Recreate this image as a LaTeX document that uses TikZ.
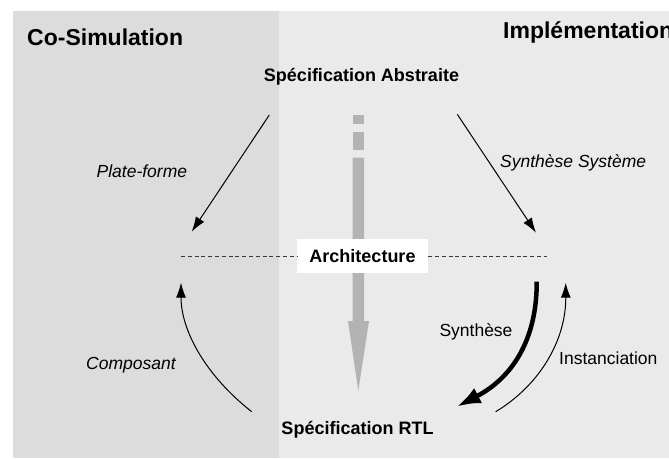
\documentclass[tikz,border=0pt]{standalone}
\usepackage{fontspec}
\setmainfont{Liberation Sans}
\usetikzlibrary{arrows.meta}
\definecolor{leftpanel}{HTML}{DCDCDC}
\definecolor{rightpanel}{HTML}{EAEAEA}
\definecolor{flowgray}{HTML}{B3B3B3}
\definecolor{dashgray}{HTML}{3A3A3A}
\begin{document}
\begin{tikzpicture}[x=1pt,y=-1pt,
  title/.style={font=\fontsize{23}{26}\selectfont\bfseries, inner sep=0pt},
  level/.style={font=\fontsize{18}{20}\selectfont\bfseries, inner sep=0pt},
  toollabel/.style={font=\fontsize{17.5}{20}\selectfont\itshape, inner sep=0pt},
  flowlabel/.style={font=\fontsize{17.5}{20}\selectfont, inner sep=0pt},
  thinarrow/.style={-{Latex[length=15pt,width=10pt]}, line width=1pt},
  thickarrow/.style={-{Latex[length=24pt,width=17pt]}, line width=4.5pt},
  archline/.style={dashgray, line width=1pt, dash pattern=on 4pt off 2.8pt},
]
\useasboundingbox (0,0) rectangle (669,458);

% two working areas
\fill[leftpanel] (13,11) rectangle (279,458);
\fill[rightpanel] (279,11) rectangle (669,458);

% refinement flow, top to bottom
\fill[flowgray] (352.7,114.7) rectangle (364,124);
\fill[flowgray] (352.7,132) rectangle (364,150);
\fill[flowgray] (352.7,157.7) -- (364,157.7) -- (364,321) -- (369,321)
  -- (358.3,391) -- (348,321) -- (352.7,321) -- cycle;

% area titles
\node[title, anchor=base west] (cosim) at (27,45) {Co-Simulation};
\node[title, anchor=base west] (impl) at (503,38.3) {Implémentation};

% abstraction levels
\node[level, anchor=base] (abs) at (361.5,81) {Spécification Abstraite};
\node[level, fill=white, minimum width=131pt, minimum height=34pt] (arch) at (362.5,256) {Architecture};
\node[level, anchor=base] (rtl) at (357.5,434) {Spécification RTL};

% free ends of the connectors
\coordinate (archL) at (181,256);
\coordinate (archR) at (547,256);
\coordinate (pfA) at (269.3,115);
\coordinate (pfB) at (191.7,231.7);
\coordinate (ssA) at (457.3,114.3);
\coordinate (ssB) at (536,232.7);
\coordinate (coA) at (251.7,411.7);
\coordinate (coB) at (181,282.7);
\coordinate (syA) at (536.7,281.7);
\coordinate (syB) at (456.7,406.7);
\coordinate (inA) at (495.7,411.7);
\coordinate (inB) at (565.7,282.7);

% architecture level line
\draw[archline] (archL) -- (arch.west);
\draw[archline] (arch.east) -- (archR);

% transitions
\draw[thinarrow] (pfA) -- (pfB);
\draw[thinarrow] (ssA) -- (ssB);
\draw[thinarrow] (coA) .. controls (205,375) and (181,330) .. (coB);
\draw[thickarrow] (syA) .. controls (537,340) and (512,378) .. (syB);
\draw[thinarrow] (inA) .. controls (540,385) and (566,340) .. (inB);

% transition labels
\node[toollabel, anchor=base east] (pf) at (187.3,177.3) {Plate-forme};
\node[toollabel, anchor=base west] (ss) at (500,167.3) {Synthèse Système};
\node[toollabel, anchor=base west] (co) at (86,369.3) {Composant};
\node[flowlabel, anchor=base west] (sy) at (439.3,336) {Synthèse};
\node[flowlabel, anchor=base west] (in) at (559,364.3) {Instanciation};
\end{tikzpicture}
\end{document}
